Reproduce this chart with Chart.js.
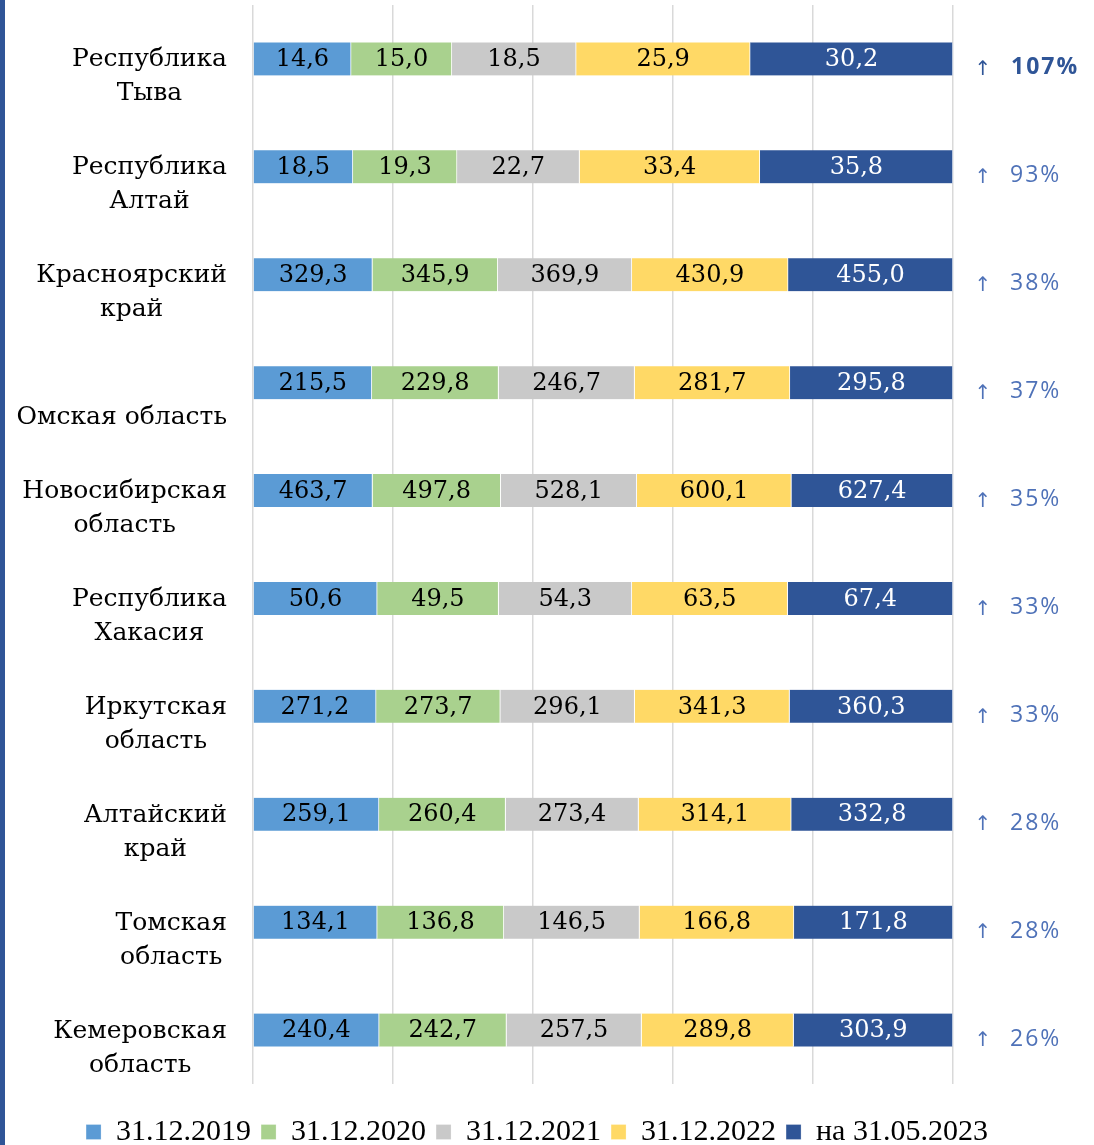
<!DOCTYPE html>
<html>
<head>
<meta charset="utf-8">
<script src="https://cdn.jsdelivr.net/npm/chart.js@4"></script>
<style>
html, body { margin: 0; padding: 0; background: #fff; }
#wrap { position: relative; width: 1094px; height: 1145px; overflow: hidden; }
#edge { position: absolute; left: 0; top: 0; width: 5px; height: 1145px; background: #2F5597; }
canvas { position: absolute; left: 0; top: 0; }
</style>
</head>
<body>
<div id="wrap">
  <canvas id="myChart" width="1094" height="1145"></canvas>
  <div id="edge"></div>
</div>
<script>
const regions = [
    ['Республика', 'Тыва'],
    ['Республика', 'Алтай'],
    ['Красноярский', 'край'],
    ['', 'Омская область'],
    ['Новосибирская', 'область'],
    ['Республика', 'Хакасия'],
    ['Иркутская', 'область'],
    ['Алтайский', 'край'],
    ['Томская', 'область'],
    ['Кемеровская', 'область']
];
const seriesNames = ['31.12.2019', '31.12.2020', '31.12.2021', '31.12.2022', 'на 31.05.2023'];
const v2019 = [14.6, 18.5, 329.3, 215.5, 463.7, 50.6, 271.2, 259.1, 134.1, 240.4];
const v2020 = [15.0, 19.3, 345.9, 229.8, 497.8, 49.5, 273.7, 260.4, 136.8, 242.7];
const v2021 = [18.5, 22.7, 369.9, 246.7, 528.1, 54.3, 296.1, 273.4, 146.5, 257.5];
const v2022 = [25.9, 33.4, 430.9, 281.7, 600.1, 63.5, 341.3, 314.1, 166.8, 289.8];
const v2023 = [30.2, 35.8, 455.0, 295.8, 627.4, 67.4, 360.3, 332.8, 171.8, 303.9];
const growth = ['107%', '93%', '38%', '37%', '35%', '33%', '33%', '28%', '28%', '26%'];
const colors = ['#5B9BD5', '#A9D18E', '#C9C9C9', '#FFD966', '#2F5597'];

const series = [v2019, v2020, v2021, v2022, v2023];
const totals = regions.map((_, i) => series.reduce((s, arr) => s + arr[i], 0));

function fmt(v) {
    return v.toFixed(1).replace('.', ',');
}

// push the legend a bit further down (and slightly left), under the plot
const legendShift = {
    id: 'legendShift',
    afterLayout(chart) {
        if (chart.legend) {
            chart.legend.top += 23;
            chart.legend.bottom += 23;
            chart.legend.left -= 10;
            chart.legend.right -= 10;
        }
    }
};

const labelsPlugin = {
    id: 'labels',
    afterDatasetsDraw(chart) {
        const ctx = chart.ctx;
        ctx.save();
        ctx.textBaseline = 'middle';

        // values inside bars
        ctx.font = '24px "DejaVu Serif"';
        ctx.textAlign = 'center';
        chart.data.datasets.forEach((ds, di) => {
            const meta = chart.getDatasetMeta(di);
            meta.data.forEach((bar, i) => {
                ctx.fillStyle = di === 4 ? '#ffffff' : '#000000';
                ctx.fillText(fmt(ds.raw[i]), (bar.x + bar.base) / 2, bar.y + 1);
            });
        });

        // category names on the left
        const yScale = chart.scales.y;
        const right = chart.chartArea.left - 26;
        ctx.font = '25px "DejaVu Serif"';
        regions.forEach((lines, i) => {
            const yc = yScale.getPixelForValue(i);
            const w = Math.max(...lines.map(l => ctx.measureText(l).width));
            lines.forEach((l, k) => {
                ctx.fillStyle = '#000000';
                ctx.fillText(l, right - w / 2, yc + 1 + k * 34);
            });
        });

        // growth on the right
        regions.forEach((_, i) => {
            const yc = yScale.getPixelForValue(i) + 9;
            const first = i === 0;
            ctx.fillStyle = first ? '#2F5597' : '#4F72B8';
            ctx.textAlign = 'center';
            ctx.font = '20px "DejaVu Sans"';
            ctx.fillText('↑', 983, yc + 2);
            ctx.textAlign = 'left';
            ctx.font = (first ? 'bold ' : '') + '23px "Open Sans"';
            ctx.letterSpacing = '2px';
            ctx.fillText(growth[i], first ? 1011 : 1010, yc);
            ctx.letterSpacing = '0px';
        });
        ctx.restore();
    }
};

const ctx = document.getElementById('myChart').getContext('2d');
const chart = new Chart(ctx, {
    type: 'bar',
    data: {
        labels: regions.map(r => r.join(' ').trim()),
        datasets: series.map((arr, si) => ({
            label: seriesNames[si],
            raw: arr,
            data: arr.map((v, i) => v / totals[i] * 100),
            backgroundColor: colors[si],
            borderColor: '#ffffff',
            borderWidth: { right: 1 },
            barThickness: 33
        }))
    },
    options: {
        indexAxis: 'y',
        responsive: false,
        animation: false,
        layout: { padding: { left: 0, right: 0, top: 5, bottom: 11 } },
        scales: {
            x: {
                stacked: true,
                min: 0,
                max: 100,
                ticks: { display: false, stepSize: 20 },
                grid: { color: '#D9D9D9', lineWidth: 1.5, drawTicks: false },
                border: { display: false }
            },
            y: {
                stacked: true,
                ticks: { display: false },
                grid: { display: false },
                border: { display: false },
                afterFit(scale) { scale.width = 253; }
            },
            yRight: {
                type: 'linear',
                position: 'right',
                ticks: { display: false },
                grid: { display: false },
                border: { display: false },
                afterFit(scale) { scale.width = 141; }
            }
        },
        plugins: {
            legend: {
                position: 'bottom',
                labels: {
                    color: '#000000',
                    font: { family: 'Liberation Serif', size: 30 },
                    boxWidth: 15,
                    boxHeight: 15,
                    padding: 10
                }
            },
            tooltip: { enabled: false }
        }
    },
    plugins: [labelsPlugin, legendShift]
});
</script>
</body>
</html>
